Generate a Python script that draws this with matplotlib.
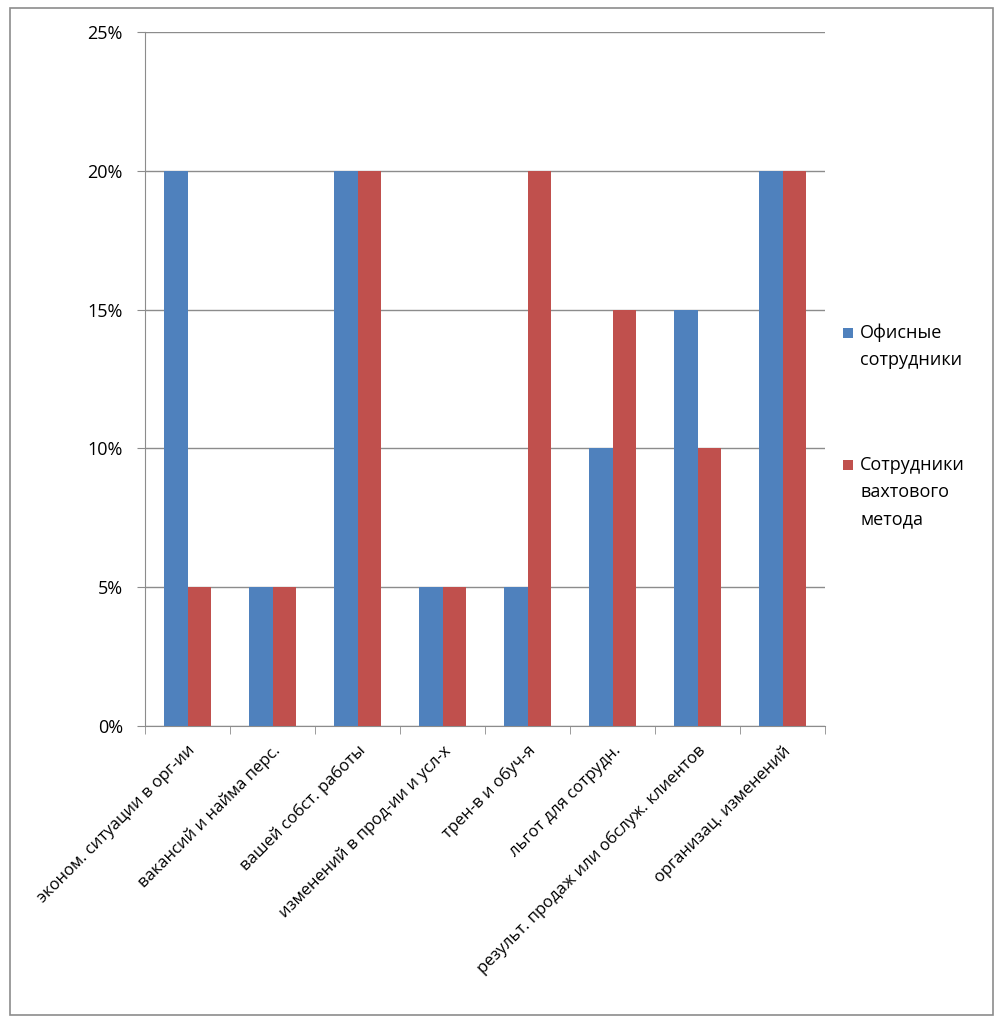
import matplotlib
matplotlib.use("Agg")
import matplotlib.pyplot as plt
import numpy as np
from matplotlib.patches import Rectangle
from matplotlib.ticker import FixedLocator, PercentFormatter

categories = ["эконом. ситуации в орг-ии", "вакансий и найма перс.", "вашей собст. работы",
              "изменений в прод-ии и усл-х", "трен-в и обуч-я", "льгот для сотрудн.",
              "результ. продаж или обслуж. клиентов", "организац. изменений"]
office = [20, 5, 20, 5, 5, 10, 15, 20]
shift = [5, 5, 20, 5, 20, 15, 10, 20]
series_names = ["Офисные\nсотрудники", "Сотрудники\nвахтового\nметода"]
series_colors = ['#4F81BD', '#C0504D']
yticks = [0, 5, 10, 15, 20, 25]

plt.rcParams['font.family'] = ['Open Sans', 'DejaVu Sans']

W, H = 1001, 1022
fig = plt.figure(figsize=(W/100, H/100), dpi=100)
fig.patches.append(Rectangle((10/W, 1-1015/H), 983/W, 1007/H, transform=fig.transFigure,
                             fill=False, edgecolor='#8c8c8c', linewidth=1.2))
ax = fig.add_axes([145/W, 1-726/H, 680/W, 694/H])

x = np.arange(len(categories))
w = 0.28
ax.bar(x - w/2, office, w, color=series_colors[0], zorder=3)
ax.bar(x + w/2, shift, w, color=series_colors[1], zorder=3)

ax.set_xlim(-0.5, len(categories) - 0.5)
ax.set_ylim(0, 25)
ax.set_yticks(yticks)
ax.yaxis.set_major_formatter(PercentFormatter(decimals=0))
ax.grid(axis='y', color='#8c8c8c', linewidth=1.0, zorder=0)
for s in ['top', 'right']:
    ax.spines[s].set_visible(False)
for s in ['left', 'bottom']:
    ax.spines[s].set_color('#8c8c8c')
ax.tick_params(axis='y', length=6, color='#8c8c8c', labelsize=13, pad=10)
ax.set_xticks(x)
ax.set_xticklabels(categories, rotation=45, ha='right', rotation_mode='anchor', fontsize=12)
ax.tick_params(axis='x', length=0, pad=12)
ax.xaxis.set_minor_locator(FixedLocator(np.arange(-0.5, len(categories), 1.0)))
ax.tick_params(axis='x', which='minor', length=6, color='#8c8c8c')

# legend (manual, markers aligned with the first text line)
entry_top = [338, 470]
for name, col, base in zip(series_names, series_colors, entry_top):
    fig.patches.append(Rectangle((843/W, 1-(base)/H), 10/W, 10/H, transform=fig.transFigure,
                                 facecolor=col, edgecolor='none'))
    for i, line in enumerate(name.split("\n")):
        fig.text(860/W, 1-(base + 27*i)/H, line, fontsize=13, va='baseline', ha='left')

fig.savefig("out.png", dpi=100)
